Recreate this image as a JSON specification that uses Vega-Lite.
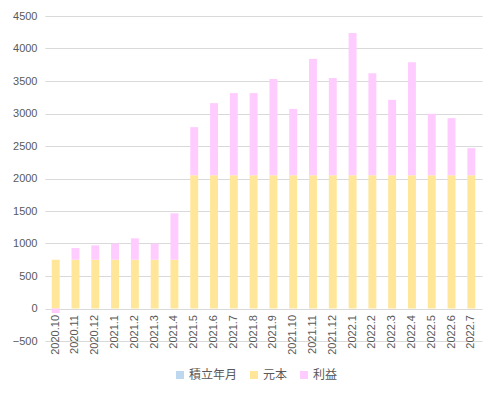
{
  "$schema": "https://vega.github.io/schema/vega-lite/v6.json",
  "autosize": "none",
  "padding": {"left": 45, "top": 16, "right": 17, "bottom": 56},
  "width": 437,
  "height": 325,
  "background": "white",
  "data": {
    "values": [
      {"month": "2020.10", "元本": 750, "利益": -70},
      {"month": "2020.11", "元本": 750, "利益": 180},
      {"month": "2020.12", "元本": 750, "利益": 222},
      {"month": "2021.1", "元本": 750, "利益": 250},
      {"month": "2021.2", "元本": 750, "利益": 330},
      {"month": "2021.3", "元本": 750, "利益": 250},
      {"month": "2021.4", "元本": 750, "利益": 715},
      {"month": "2021.5", "元本": 2050, "利益": 740},
      {"month": "2021.6", "元本": 2050, "利益": 1110},
      {"month": "2021.7", "元本": 2050, "利益": 1264},
      {"month": "2021.8", "元本": 2050, "利益": 1264},
      {"month": "2021.9", "元本": 2050, "利益": 1480},
      {"month": "2021.10", "元本": 2050, "利益": 1020},
      {"month": "2021.11", "元本": 2050, "利益": 1790},
      {"month": "2021.12", "元本": 2050, "利益": 1495},
      {"month": "2022.1", "元本": 2050, "利益": 2190},
      {"month": "2022.2", "元本": 2050, "利益": 1570},
      {"month": "2022.3", "元本": 2050, "利益": 1160},
      {"month": "2022.4", "元本": 2050, "利益": 1740},
      {"month": "2022.5", "元本": 2050, "利益": 945},
      {"month": "2022.6", "元本": 2050, "利益": 879},
      {"month": "2022.7", "元本": 2050, "利益": 417}
    ]
  },
  "transform": [{"fold": ["元本", "利益"], "as": ["series", "value"]}],
  "mark": {"type": "bar"},
  "encoding": {
    "x": {
      "field": "month", "type": "nominal", "sort": null,
      "scale": {"paddingInner": 0.6, "paddingOuter": 0.34},
      "axis": {
        "title": null, "labelAngle": -90, "offset": -32.5, "domain": false, "ticks": false,
        "labelPadding": 6, "labelFont": "Liberation Sans", "labelFontSize": 11, "labelColor": "#595959",
        "grid": false
      }
    },
    "y": {
      "field": "value", "type": "quantitative", "stack": "zero",
      "scale": {"domain": [-500, 4500], "nice": false, "zero": false},
      "axis": {
        "title": null, "values": [-500, 0, 500, 1000, 1500, 2000, 2500, 3000, 3500, 4000, 4500],
        "format": "d",
        "domain": false, "ticks": false, "labelPadding": 8,
        "labelFont": "Liberation Sans", "labelFontSize": 11, "labelColor": "#595959",
        "gridColor": "#D9D9D9", "gridWidth": 1
      }
    },
    "color": {
      "field": "series", "type": "nominal",
      "scale": {"domain": ["積立年月", "元本", "利益"], "range": ["#BDD7EE", "#FFE699", "#FFCCFF"]},
      "legend": {
        "title": null, "orient": "none", "direction": "horizontal",
        "legendX": 129, "legendY": 353, "symbolType": "square", "symbolSize": 64,
        "symbolStrokeWidth": 0, "labelFont": "Noto Sans CJK JP", "labelFontSize": 12,
        "labelColor": "#595959", "columnPadding": 10, "labelOffset": 3
      }
    },
    "order": {"field": "series", "sort": "ascending"}
  },
  "config": {"view": {"stroke": null}}
}
